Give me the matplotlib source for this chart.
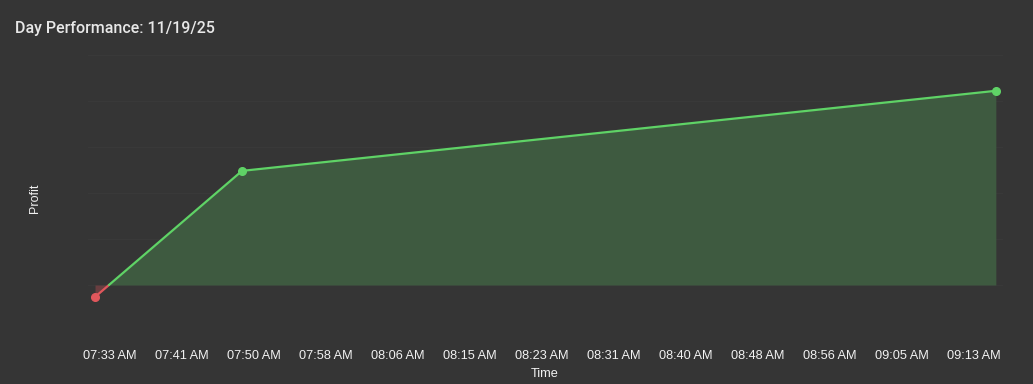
import numpy as np
import matplotlib
matplotlib.use("Agg")
import matplotlib.pyplot as plt
import matplotlib.dates as mdates
from datetime import datetime, timedelta

# data
times = ["07:31:40", "07:48:40", "09:15:50"]
profit = [-26, 248, 422]
tick_start = "07:33:20"
tick_step_sec = 500
n_ticks = 13

day = "2025-11-19 "
t = [datetime.strptime(day + s, "%Y-%m-%d %H:%M:%S") for s in times]
x = mdates.date2num(t)
y = np.array(profit, dtype=float)

bg = "#353535"
green = "#5fd366"
red = "#e0575c"
txt = "#f2f2f2"

fig = plt.figure(figsize=(10.33, 3.84), dpi=100, facecolor=bg)
ax = fig.add_axes([0.085, 0.138, 0.886, 0.719], facecolor=bg)

# find zero crossings so the line changes colour at 0
xs, ys = [x[0]], [y[0]]
for i in range(1, len(x)):
    if (y[i - 1] < 0) != (y[i] < 0):
        xc = x[i - 1] + (0 - y[i - 1]) * (x[i] - x[i - 1]) / (y[i] - y[i - 1])
        xs.append(xc)
        ys.append(0.0)
    xs.append(x[i])
    ys.append(y[i])
xs = np.array(xs)
ys = np.array(ys)

ax.fill_between(xs, ys, 0, where=ys >= 0, color="#3e5a40", lw=0, interpolate=True)
ax.fill_between(xs, ys, 0, where=ys <= 0, color="#6a3e40", lw=0, interpolate=True)

for i in range(1, len(xs)):
    c = red if min(ys[i - 1], ys[i]) < 0 else green
    ax.plot(xs[i - 1:i + 1], ys[i - 1:i + 1], color=c, lw=1.6, solid_capstyle="round")

for xi, yi in zip(x, y):
    ax.plot(xi, yi, "o", color=red if yi < 0 else green, ms=5.5, zorder=5)

ax.set_ylim(-100, 500)
pad = (x[-1] - x[0]) * 0.008
ax.set_xlim(x[0] - pad, x[-1] + pad)
ax.set_yticks(np.arange(-100, 501, 100))
ax.yaxis.grid(True, color="#393939", lw=0.8)
ax.set_axisbelow(True)
ax.tick_params(axis="y", left=False, labelleft=False)

t0 = datetime.strptime(day + tick_start, "%Y-%m-%d %H:%M:%S")
ticks = [t0 + timedelta(seconds=tick_step_sec * k) for k in range(n_ticks)]
ax.set_xticks(mdates.date2num(ticks))
ax.set_xticklabels([d.strftime("%I:%M %p") for d in ticks])
ax.tick_params(axis="x", length=0, pad=14, colors=txt, labelsize=9.2)
for lab in ax.get_xticklabels():
    lab.set_fontfamily("Liberation Sans")

for s in ax.spines.values():
    s.set_visible(False)

fig.text(0.0145, 0.927, "Day Performance: 11/19/25", color="#e8e8e8", fontsize=11.5,
         fontfamily="Roboto", fontweight="medium", va="center", ha="left")
fig.text(0.527, 0.025, "Time", color=txt, fontsize=9.2, fontfamily="Liberation Sans",
         ha="center", va="center")
fig.text(0.034, 0.485, "Profit", color=txt, fontsize=9, fontfamily="Liberation Sans",
         ha="center", va="center", rotation=90)

fig.savefig("out.png", dpi=100, facecolor=bg)
